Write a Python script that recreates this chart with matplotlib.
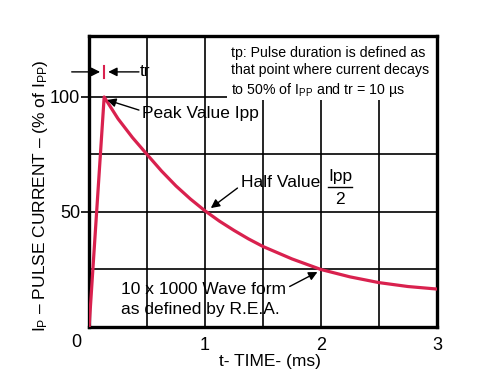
import matplotlib

matplotlib.use("Agg")
import matplotlib.pyplot as plt
from matplotlib.patches import Rectangle

plt.rcParams["font.family"] = ["Liberation Sans", "DejaVu Sans"]
plt.rcParams["mathtext.fontset"] = "custom"
plt.rcParams["mathtext.rm"] = "Liberation Sans"
plt.rcParams["mathtext.it"] = "Liberation Sans:italic"

# pulse waveform (time in ms, % of Ipp)
time_ms = [0, 0.13, 0.25, 0.375, 0.5, 0.625, 0.75, 0.875, 1.0, 1.125, 1.25,
           1.375, 1.5, 1.75, 2.0, 2.25, 2.5, 2.75, 3.0]
current_pct = [0, 100, 90.5, 82.3, 75, 67.8, 61.3, 55.6, 50.5, 46, 42,
               38.3, 35, 29.6, 25, 21.8, 19.3, 17.6, 16.5]

x_ticks = [1, 2, 3]
y_ticks = [50, 100]
grid_x = [0.5, 1, 1.5, 2, 2.5]
grid_y = [25, 50, 75, 100]

peak_t = 0.13
red = "#d9214e"

fig = plt.figure(figsize=(4.79, 3.75), dpi=100)
ax = fig.add_axes([0.186, 0.128, 0.726, 0.776])
ax.set_xlim(0, 3)
ax.set_ylim(0, 126.5)

for gx in grid_x:
    ax.axvline(gx, color="black", lw=1.2, zorder=1)
for gy in grid_y:
    ax.axhline(gy, color="black", lw=1.2, zorder=1)

# white box behind the note cuts the grid in the top-right corner
ax.add_patch(Rectangle((1.19, 98.8), 1.81, 30, facecolor="white",
                       edgecolor="none", zorder=2))

ax.plot(time_ms, current_pct, color=red, lw=2.3, zorder=3)

ax.set_xticks(x_ticks)
ax.set_yticks(y_ticks)
ax.tick_params(axis="x", length=0, pad=7, labelsize=13)
ax.tick_params(axis="y", length=5.5, width=1.2, pad=1, labelsize=13)
for sp in ax.spines.values():
    sp.set_linewidth(2.4)
ax.text(-0.11, -6.8, "0", fontsize=13, ha="center", va="center")

arrow = dict(arrowstyle="-|>", color="black", lw=1.0, mutation_scale=13,
             shrinkA=0, shrinkB=0)

# tr marker
ax.plot([peak_t, peak_t], [108.3, 113.6], color=red, lw=1.5, zorder=4)
ax.annotate("", xy=(0.095, 110.9), xytext=(-0.15, 110.9),
            arrowprops=arrow, annotation_clip=False)
ax.annotate("", xy=(0.165, 110.9), xytext=(0.43, 110.9), arrowprops=arrow)
ax.text(0.44, 110.9, "tr", fontsize=12.5, ha="left", va="center")

# peak value
ax.annotate("", xy=(0.155, 98.7), xytext=(0.43, 94.3), arrowprops=arrow)
ax.text(0.455, 92.8, "Peak Value Ipp", fontsize=12.5, ha="left", va="center")

# half value
ax.annotate("", xy=(1.05, 51.7), xytext=(1.28, 60.4), arrowprops=arrow)
ax.text(1.31, 62.8, "Half Value", fontsize=12.5, ha="left", va="center")
ax.text(2.165, 65.5, "Ipp", fontsize=12.5, ha="center", va="center")
ax.plot([2.06, 2.27], [60.9, 60.9], color="black", lw=1.0)
ax.text(2.165, 55.5, "2", fontsize=12.5, ha="center", va="center")

# waveform note
ax.annotate("", xy=(1.97, 23.9), xytext=(1.73, 17.6), arrowprops=arrow)
ax.text(0.275, 16.2, "10 x 1000 Wave form", fontsize=12.5, ha="left", va="center")
ax.text(0.275, 7.4, "as defined by R.E.A.", fontsize=12.5, ha="left", va="center")

# pulse duration note
note = ["tp: Pulse duration is defined as",
        "that point where current decays",
        r"to 50% of $\mathrm{I_{PP}}$ and tr = 10 µs"]
for line, ny in zip(note, [119.1, 111.7, 103.0]):
    ax.text(1.225, ny, line, fontsize=10.2, ha="left", va="center", zorder=5)

fig.text(0.564, 0.036, "t- TIME- (ms)", fontsize=12.5, ha="center", va="center")
fig.text(0.084, 0.478, r"$\mathrm{I_P}$ – PULSE CURRENT – (% of $\mathrm{I_{PP}}$)",
         fontsize=12.5, rotation=90, ha="center", va="center")

fig.savefig("out.png", dpi=100)
